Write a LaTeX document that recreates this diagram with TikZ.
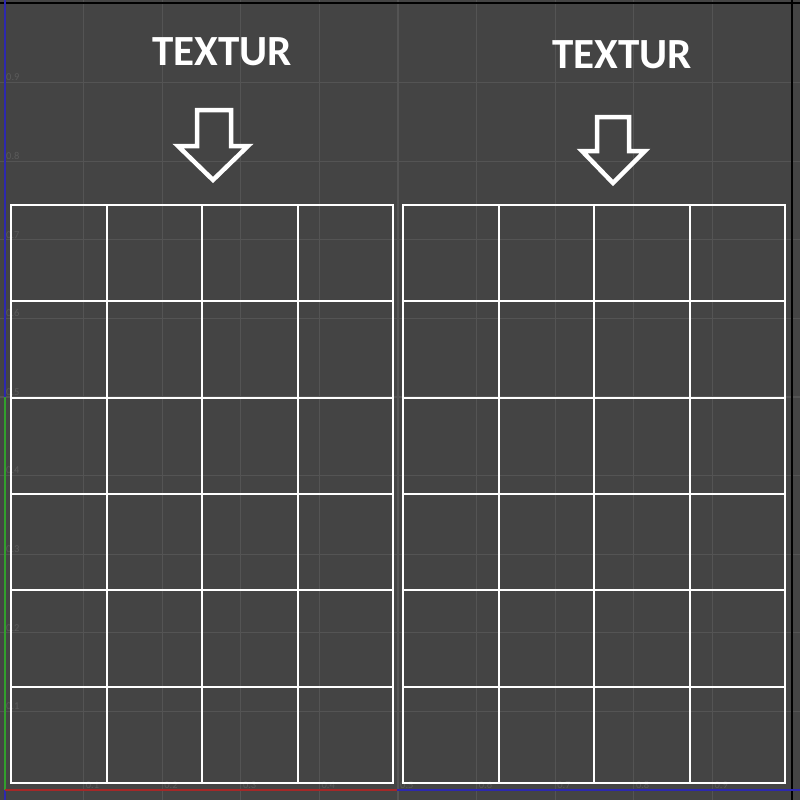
\documentclass[tikz,border=0pt]{standalone}
\usepackage{fontspec}
\setmainfont{Carlito}
\definecolor{bg}{RGB}{68,68,68}
\definecolor{faint}{RGB}{84,84,84}
\definecolor{lab}{RGB}{90,90,90}
\definecolor{axblue}{RGB}{45,40,175}
\definecolor{axgreen}{RGB}{50,160,45}
\definecolor{axred}{RGB}{165,40,40}
\tikzset{
  uvgrid/.style={draw=white, line width=2pt},
  uvframe/.style={draw=white, line width=2.6pt},
  arrowout/.style={draw=white, line width=4.5pt, line join=miter},
  title/.style={text=white, font=\bfseries\fontsize{43}{50}\selectfont, inner sep=0pt},
  axlab/.style={text=lab, font=\fontsize{10.5}{12}\selectfont, inner sep=0pt, anchor=south west},
  faintline/.style={draw=faint, line width=1.3pt},
  axis/.style={line width=2pt}
}
\begin{document}
\begin{tikzpicture}[x=1pt,y=-1pt]
\useasboundingbox (0,0) rectangle (800,800);
\fill[bg] (0,0) rectangle (800,800);
% faint background plot grid
\foreach \k in {1,...,9}{
  \draw[faintline] ({5+78.6*\k},0) -- ({5+78.6*\k},800);
  \draw[faintline] (0,{790-78.6*\k}) -- (800,{790-78.6*\k});
  \node[axlab] at (6,{790-78.6*\k-1.5}) {0.\k};
  \node[axlab] at ({5+78.6*\k+2},789) {0.\k};
}
% frame and axes
\draw[black,axis] (0,3.5) -- (800,3.5);
\draw[black,axis] (792,0) -- (792,800);
\draw[axblue,axis] (5,0) -- (5,397);
\draw[axblue,axis] (5,790) -- (5,800);
\draw[axgreen,axis] (5,397) -- (5,790);
\draw[axred,axis] (5,790) -- (397,790);
\draw[axblue,axis] (397,790) -- (800,790);
% left UV grid
\foreach \i in {1,2,3}{
  \draw[uvgrid] ({11+95.5*\i},205) -- ({11+95.5*\i},783);
  \draw[uvgrid] ({403+95.5*\i},205) -- ({403+95.5*\i},783);
}
\foreach \j in {1,...,5}{
  \draw[uvgrid] (11,{205+96.33*\j}) -- (393,{205+96.33*\j});
  \draw[uvgrid] (403,{205+96.33*\j}) -- (785,{205+96.33*\j});
}
\draw[uvframe] (11,205) rectangle (393,783);
\draw[uvframe] (403,205) rectangle (785,783);
% titles
\node[title] (t1) at (222,52) {TEXTUR};
\node[title] (t2) at (622,55) {TEXTUR};
% arrows
\draw[arrowout] (197,110) -- (231,110) -- (231,146) -- (248,146) -- (213,180) -- (178,146) -- (197,146) -- cycle;
\draw[arrowout] (597,117) -- (629,117) -- (629,151) -- (645,151) -- (613,183) -- (582,151) -- (597,151) -- cycle;
\end{tikzpicture}
\end{document}
